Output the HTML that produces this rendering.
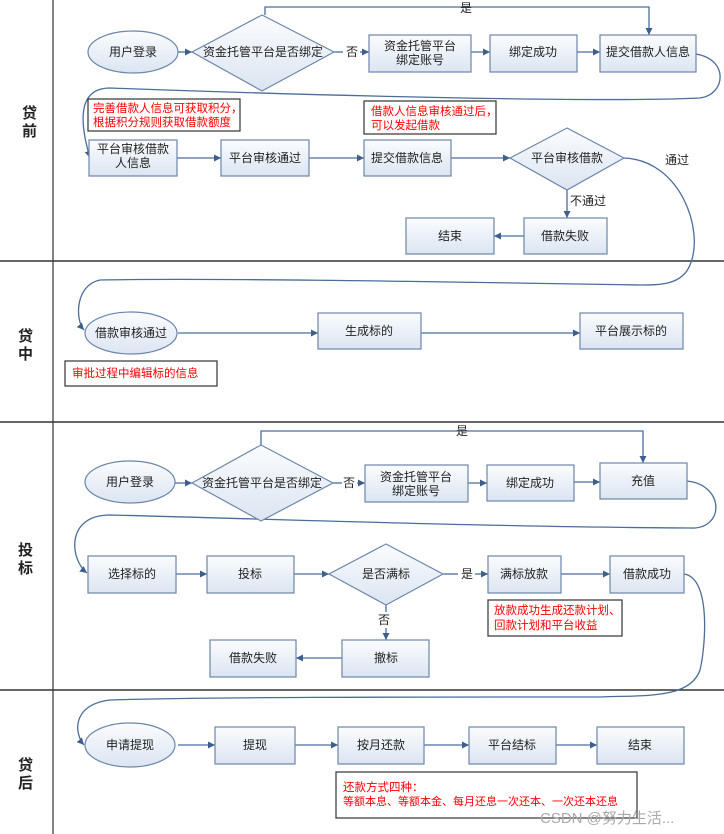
<!DOCTYPE html>
<html><head><meta charset="utf-8"><style>
html,body{margin:0;padding:0;background:#fff}
svg{display:block}
text{font-family:"Liberation Sans","Noto Sans CJK SC",sans-serif;font-size:12px;fill:#222}
.r{fill:#f00;font-size:11.5px}
</style></head><body>
<svg width="724" height="834" viewBox="0 0 724 834" xmlns="http://www.w3.org/2000/svg">
<defs>
<linearGradient id="g" x1="0" y1="0" x2="0" y2="1"><stop offset="0" stop-color="#fbfcfe"/><stop offset="1" stop-color="#dbe5f1"/></linearGradient>
<marker id="a" markerWidth="8" markerHeight="8" refX="7" refY="4" orient="auto" markerUnits="userSpaceOnUse"><path d="M0,0.5 L7,4 L0,7.5 z" fill="#3e5f8a"/></marker>
</defs>
<g stroke="#333" stroke-width="1.5" fill="none">
<line x1="53" y1="0" x2="53" y2="834" stroke-width="1.2"/>
<line x1="0" y1="261" x2="724" y2="261"/>
<line x1="0" y1="422" x2="724" y2="422"/>
<line x1="0" y1="690" x2="724" y2="690"/>
</g>
<g font-weight="bold">
<text x="22" y="118" style="font-size:15px">贷</text><text x="22" y="136" style="font-size:15px">前</text>
<text x="18" y="341" style="font-size:15px">贷</text><text x="18" y="359" style="font-size:15px">中</text>
<text x="18" y="555" style="font-size:15px">投</text><text x="18" y="573" style="font-size:15px">标</text>
<text x="18" y="770" style="font-size:15px">贷</text><text x="18" y="788" style="font-size:15px">后</text>
</g>
<g stroke="#4a6d9a" stroke-width="1.3" fill="none" marker-end="url(#a)">
<line x1="178" y1="52" x2="192" y2="52"/>
<line x1="334" y1="52" x2="343" y2="52" marker-end="none"/>
<line x1="360" y1="52" x2="369" y2="52"/>
<line x1="471" y1="52" x2="490" y2="52"/>
<line x1="577" y1="52" x2="600" y2="52"/>
<path d="M265,15 V7 H649 V35"/>
<path d="M696,54 C730,60 725,95 700,98 C600,103 300,95 110,88 C70,88 85,140 90,158"/>
<line x1="177" y1="158" x2="221" y2="158"/>
<line x1="309" y1="158" x2="364" y2="158"/>
<line x1="451" y1="158" x2="510" y2="158"/>
<line x1="567" y1="190" x2="567" y2="218"/>
<line x1="524" y1="236" x2="494" y2="236"/>
<path d="M624,158 C680,160 705,230 690,265 C682,285 660,285 640,285 C400,281 200,278 100,280 C75,285 75,320 84,330"/>
<line x1="178" y1="333" x2="318" y2="333"/>
<line x1="421" y1="333" x2="580" y2="333"/>
<line x1="175" y1="483" x2="192" y2="483"/>
<line x1="333" y1="483" x2="342" y2="483" marker-end="none"/>
<line x1="357" y1="483" x2="365" y2="483"/>
<line x1="468" y1="483" x2="487" y2="483"/>
<line x1="574" y1="482" x2="600" y2="482"/>
<path d="M261,445 V431 H643 V463"/>
<path d="M687,481 C725,485 725,530 690,528 C500,527 300,520 110,515 C65,515 70,560 87,573"/>
<line x1="176" y1="574" x2="207" y2="574"/>
<line x1="294" y1="574" x2="329" y2="574"/>
<line x1="443" y1="574" x2="458" y2="574" marker-end="none"/>
<line x1="475" y1="574" x2="488" y2="574"/>
<line x1="561" y1="574" x2="610" y2="574"/>
<line x1="386" y1="605" x2="386" y2="612" marker-end="none"/>
<line x1="386" y1="628" x2="386" y2="640"/>
<line x1="342" y1="658" x2="296" y2="658"/>
<path d="M684,574 C712,578 705,650 700,670 C690,700 640,695 600,697 C400,697 200,697 110,700 C70,705 75,735 84,745"/>
<line x1="178" y1="745" x2="215" y2="745"/>
<line x1="295" y1="745" x2="338" y2="745"/>
<line x1="424" y1="745" x2="469" y2="745"/>
<line x1="556" y1="745" x2="597" y2="745"/>
</g>
<g stroke="#6d86aa" stroke-width="1.2" fill="url(#g)">
<ellipse cx="133" cy="52" rx="45" ry="21"/>
<polygon points="262,15 334,52 262,91 192,52"/>
<rect x="369" y="35" width="102" height="37"/>
<rect x="490" y="35" width="87" height="37"/>
<rect x="600" y="35" width="96" height="37"/>
<rect x="89" y="140" width="88" height="36"/>
<rect x="221" y="140" width="88" height="36"/>
<rect x="364" y="140" width="87" height="36"/>
<polygon points="567,128 624,158 567,190 510,158"/>
<rect x="524" y="218" width="83" height="36"/>
<rect x="406" y="218" width="88" height="36"/>
<ellipse cx="131" cy="333" rx="46" ry="21"/>
<rect x="318" y="313" width="103" height="36"/>
<rect x="580" y="313" width="103" height="36"/>
<ellipse cx="130" cy="482" rx="45" ry="21"/>
<polygon points="261,445 333,483 261,521 192,483"/>
<rect x="365" y="465" width="103" height="37"/>
<rect x="487" y="465" width="87" height="36"/>
<rect x="600" y="463" width="87" height="36"/>
<rect x="88" y="556" width="88" height="37"/>
<rect x="207" y="556" width="87" height="37"/>
<polygon points="386,544 443,574 386,605 329,574"/>
<rect x="488" y="556" width="73" height="37"/>
<rect x="610" y="556" width="74" height="37"/>
<rect x="342" y="640" width="87" height="37"/>
<rect x="210" y="640" width="86" height="37"/>
<ellipse cx="130" cy="745" rx="45" ry="22"/>
<rect x="215" y="727" width="80" height="37"/>
<rect x="338" y="727" width="86" height="37"/>
<rect x="469" y="727" width="87" height="37"/>
<rect x="597" y="727" width="87" height="37"/>
</g>
<g stroke="#333" stroke-width="1.2" fill="#fff">
<rect x="88" y="99" width="152" height="32"/>
<rect x="364" y="101" width="132" height="33"/>
<rect x="65" y="361" width="152" height="25"/>
<rect x="488" y="600" width="134" height="36"/>
<rect x="336" y="772" width="301" height="46"/>
</g>
<g text-anchor="middle">
<text x="133" y="56">用户登录</text>
<text x="263" y="56">资金托管平台是否绑定</text>
<text x="420" y="50">资金托管平台</text><text x="420" y="64">绑定账号</text>
<text x="533" y="56">绑定成功</text>
<text x="648" y="56">提交借款人信息</text>
<text x="133" y="153">平台审核借款</text><text x="133" y="167">人信息</text>
<text x="265" y="162">平台审核通过</text>
<text x="407" y="162">提交借款信息</text>
<text x="567" y="162">平台审核借款</text>
<text x="565" y="240">借款失败</text>
<text x="450" y="240">结束</text>
<text x="131" y="337">借款审核通过</text>
<text x="369" y="335">生成标的</text>
<text x="631" y="335">平台展示标的</text>
<text x="130" y="486">用户登录</text>
<text x="262" y="487">资金托管平台是否绑定</text>
<text x="416" y="481">资金托管平台</text><text x="416" y="495">绑定账号</text>
<text x="530" y="487">绑定成功</text>
<text x="643" y="485">充值</text>
<text x="132" y="578">选择标的</text>
<text x="250" y="578">投标</text>
<text x="386" y="578">是否满标</text>
<text x="524" y="578">满标放款</text>
<text x="647" y="578">借款成功</text>
<text x="386" y="662">撤标</text>
<text x="253" y="662">借款失败</text>
<text x="130" y="749">申请提现</text>
<text x="255" y="749">提现</text>
<text x="381" y="749">按月还款</text>
<text x="512" y="749">平台结标</text>
<text x="640" y="749">结束</text>
<text x="466" y="12">是</text>
<text x="352" y="56">否</text>
<text x="677" y="164">通过</text>
<text x="588" y="205">不通过</text>
<text x="462" y="435">是</text>
<text x="349" y="487">否</text>
<text x="467" y="578">是</text>
<text x="384" y="624">否</text>
</g>
<g>
<text class="r" x="93" y="112">完善借款人信息可获取积分，</text>
<text class="r" x="93" y="126">根据积分规则获取借款额度</text>
<text class="r" x="371" y="115">借款人信息审核通过后，</text>
<text class="r" x="371" y="129">可以发起借款</text>
<text class="r" x="72" y="377">审批过程中编辑标的信息</text>
<text class="r" x="494" y="614">放款成功生成还款计划、</text>
<text class="r" x="494" y="629">回款计划和平台收益</text>
<text class="r" x="343" y="791">还款方式四种：</text>
<text class="r" x="343" y="805" style="font-size:11px">等额本息、等额本金、每月还息一次还本、一次还本还息</text>
<text x="540" y="823" style="font-size:15px;fill:#aaa">CSDN @努力生活...</text>
</g>
</svg>
</body></html>
